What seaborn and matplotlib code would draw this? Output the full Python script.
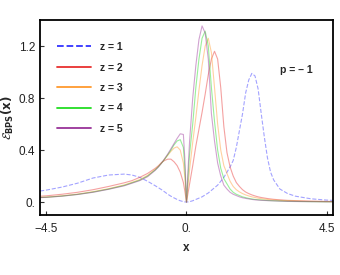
import numpy as np
import pandas as pd
import matplotlib
matplotlib.use("Agg")
import matplotlib.pyplot as plt
from matplotlib.lines import Line2D
import seaborn as sns

# shared x grid
x = [-4.7, -4.5, -4.0, -3.5, -3.0, -2.5, -2.0, -1.75, -1.5, -1.25, -1.0,
     -0.9, -0.8, -0.7, -0.6, -0.5, -0.4, -0.3, -0.2, -0.1, -0.05, 0.0,
     0.05, 0.1, 0.2, 0.3, 0.4, 0.5, 0.6, 0.7, 0.8, 0.9, 1.0, 1.1, 1.2,
     1.3, 1.4, 1.5, 1.6, 1.7, 1.8, 1.9, 2.0, 2.1, 2.2, 2.3, 2.4, 2.5,
     2.6, 2.7, 2.8, 3.0, 3.25, 3.5, 4.0, 4.5, 4.7]

z1 = [0.085, 0.092, 0.115, 0.145, 0.185, 0.208, 0.215, 0.208, 0.19, 0.16, 0.125,
      0.11, 0.095, 0.078, 0.06, 0.045, 0.032, 0.02, 0.01, 0.003, 0.001, 0.0,
      0.001, 0.003, 0.01, 0.02, 0.03, 0.04, 0.055, 0.07, 0.09, 0.11, 0.13, 0.16, 0.19,
      0.23, 0.27, 0.32, 0.42, 0.55, 0.68, 0.84, 0.94, 0.99, 0.97, 0.87, 0.68, 0.5,
      0.34, 0.23, 0.17, 0.1, 0.065, 0.045, 0.025, 0.015, 0.013]

z2 = [0.045, 0.048, 0.06, 0.075, 0.095, 0.12, 0.148, 0.165, 0.19, 0.22, 0.26,
      0.28, 0.305, 0.32, 0.33, 0.33, 0.31, 0.28, 0.23, 0.15, 0.08, 0.0,
      0.07, 0.14, 0.28, 0.43, 0.56, 0.69, 0.83, 0.98, 1.1, 1.16, 1.1, 0.88, 0.58,
      0.38, 0.27, 0.2, 0.15, 0.12, 0.095, 0.077, 0.065, 0.055, 0.047, 0.04, 0.035, 0.031,
      0.027, 0.024, 0.021, 0.017, 0.013, 0.011, 0.007, 0.005, 0.004]

z3 = [0.036, 0.038, 0.048, 0.061, 0.08, 0.103, 0.132, 0.152, 0.173, 0.205, 0.252,
      0.275, 0.3, 0.33, 0.36, 0.39, 0.415, 0.425, 0.4, 0.3, 0.18, 0.0,
      0.13, 0.25, 0.46, 0.65, 0.86, 1.05, 1.2, 1.26, 1.15, 0.88, 0.6, 0.4, 0.28,
      0.22, 0.16, 0.12, 0.095, 0.078, 0.065, 0.055, 0.047, 0.04, 0.035, 0.03, 0.026, 0.023,
      0.02, 0.018, 0.016, 0.013, 0.01, 0.008, 0.005, 0.003, 0.003]

z4 = [0.035, 0.037, 0.046, 0.059, 0.077, 0.1, 0.128, 0.148, 0.168, 0.2, 0.248,
      0.272, 0.3, 0.33, 0.365, 0.4, 0.44, 0.47, 0.48, 0.42, 0.25, 0.0,
      0.2, 0.37, 0.6, 0.88, 1.1, 1.26, 1.315, 1.2, 0.88, 0.62, 0.4, 0.26, 0.18,
      0.14, 0.1, 0.075, 0.06, 0.05, 0.04, 0.034, 0.028, 0.024, 0.02, 0.018, 0.016, 0.014,
      0.012, 0.011, 0.01, 0.008, 0.006, 0.005, 0.003, 0.002, 0.002]

z5 = [0.034, 0.036, 0.045, 0.058, 0.075, 0.098, 0.125, 0.145, 0.165, 0.195, 0.245,
      0.27, 0.3, 0.335, 0.37, 0.41, 0.45, 0.49, 0.525, 0.52, 0.32, 0.0,
      0.25, 0.47, 0.8, 1.05, 1.25, 1.355, 1.3, 1.1, 0.68, 0.47, 0.3, 0.2, 0.13,
      0.1, 0.075, 0.06, 0.05, 0.04, 0.033, 0.028, 0.024, 0.02, 0.017, 0.015, 0.013, 0.012,
      0.011, 0.01, 0.009, 0.007, 0.005, 0.004, 0.003, 0.002, 0.002]

labels = ["z = 1", "z = 2", "z = 3", "z = 4", "z = 5"]
colors = ["#3333ff", "#e8302f", "#ff9a2e", "#22dd22", "#993399"]

sns.set_style("ticks")
plt.rcParams["font.family"] = ["Liberation Sans", "DejaVu Sans"]
plt.rcParams["mathtext.fontset"] = "dejavusans"

fig = plt.figure(figsize=(3.4, 2.75), dpi=100)
ax = fig.add_axes([0.118, 0.218, 0.861, 0.709])

for vals, lab, col in zip([z1, z2, z3, z4, z5], labels, colors):
    ls = "--" if lab == "z = 1" else "-"
    sns.lineplot(x=x, y=vals, ax=ax, color=col, linestyle=ls, linewidth=0.8,
                 alpha=0.45, legend=False)

handles = [Line2D([], [], color=c, linewidth=1.3, linestyle="--" if i == 0 else "-")
           for i, c in enumerate(colors)]
ax.legend(handles, labels, loc="upper left", bbox_to_anchor=(0.025, 0.935),
          frameon=False, handlelength=3.3, labelspacing=1.0,
          prop={"weight": "bold", "size": 7.5})

ax.text(0.93, 0.745, "p = \u2013 1", transform=ax.transAxes, ha="right", va="center",
        fontsize=7.5, fontweight="bold")

ax.set_xlim(-4.7, 4.7)
ax.set_ylim(-0.1, 1.4)
ax.set_xticks([-4.5, 0, 4.5])
ax.set_xticklabels(["\u22124.5", "0.", "4.5"])
ax.set_yticks([0, 0.4, 0.8, 1.2])
ax.set_yticklabels(["0.", "0.4", "0.8", "1.2"])
ax.tick_params(direction="in", length=3, width=0.8, labelsize=8.5, colors="#333333",
               labelcolor="#222222")
ax.tick_params(axis="x", pad=6)
for sp in ax.spines.values():
    sp.set_linewidth(1.3)
    sp.set_color("black")

ax.set_xlabel("x", fontsize=8.5, fontweight="bold", labelpad=5)
ax.set_ylabel(r"$\mathbf{\mathcal{E}_{BPS}(x)}$", fontsize=8.5, labelpad=2)

fig.savefig("out.png", dpi=100)
